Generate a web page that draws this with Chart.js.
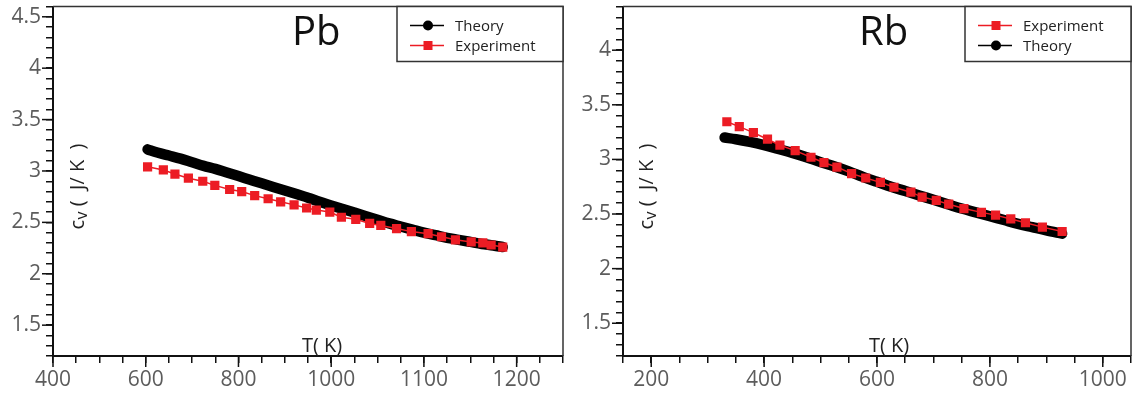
<!DOCTYPE html>
<html><head><meta charset="utf-8">
<script src="https://cdn.jsdelivr.net/npm/chart.js@4.4.1/dist/chart.umd.min.js"></script>
<style>
html,body{margin:0;padding:0;background:#fff;}
#wrap{position:relative;width:1142px;height:398px;overflow:hidden;}
canvas{position:absolute;top:0;}
</style></head><body>
<div id="wrap">
<canvas id="pb" width="575" height="398" style="left:0px"></canvas>
<canvas id="rb" width="567" height="398" style="left:575px"></canvas>
</div>
<script>
// ---------- Pb panel data (x in the figure's plotted axis units) ----------
const pbExpT  = [604,638,663,692,723,749,781,807,835,864,891,920,947,968,997,1022,1053,1083,1107,1141,1173,1209,1238,1268,1302,1327,1345,1370];
const pbExpCv = [3.04,3.01,2.97,2.93,2.90,2.86,2.82,2.80,2.76,2.73,2.70,2.67,2.64,2.62,2.60,2.55,2.53,2.49,2.47,2.44,2.41,2.39,2.36,2.33,2.31,2.30,2.28,2.26];
const pbTheoryT  = [604,625,650,675,700,725,750,775,800,825,850,875,900,925,950,975,1000,1025,1050,1075,1100,1125,1150,1175,1200,1225,1250,1275,1300,1325,1350,1370];
const pbTheoryCv = [3.21,3.18,3.15,3.12,3.085,3.05,3.02,2.985,2.95,2.915,2.88,2.845,2.81,2.775,2.74,2.70,2.665,2.63,2.595,2.56,2.525,2.49,2.46,2.43,2.40,2.375,2.35,2.33,2.31,2.29,2.275,2.26];
const pbXTickValues = [400,600,800,1000,1200,1400];
const pbXTickLabels = ['400','600','800','1000','1100','1200'];
const pbYTickValues = [1.5,2,2.5,3,3.5,4,4.5];
const pbYTickLabels = ['1.5','2','2.5','3','3.5','4','4.5'];

// ---------- Rb panel data ----------
const rbExpT  = [334,356,381,406,428,455,483,506,529,555,580,606,630,660,680,705,727,754,785,810,837,863,893,928];
const rbExpCv = [3.345,3.30,3.245,3.185,3.13,3.08,3.02,2.97,2.93,2.87,2.83,2.79,2.745,2.70,2.655,2.625,2.59,2.55,2.515,2.49,2.455,2.42,2.38,2.34];
const rbTheoryT  = [330,350,375,400,425,450,475,500,525,550,575,600,625,650,675,700,725,750,775,800,825,850,875,900,928];
const rbTheoryCv = [3.20,3.185,3.16,3.13,3.095,3.06,3.02,2.975,2.935,2.89,2.84,2.795,2.75,2.71,2.67,2.63,2.59,2.55,2.515,2.48,2.445,2.41,2.38,2.35,2.32];
const rbXTickValues = [200,400,600,800,1000];
const rbXTickLabels = ['200','400','600','800','1000'];
const rbYTickValues = [1.5,2,2.5,3,3.5,4];
const rbYTickLabels = ['1.5','2','2.5','3','3.5','4'];

const RED = '#ec1c24';
const BLACK = '#000000';
const TICKCOL = '#5c5c5c';
const FONT = "'Open Sans', 'DejaVu Sans', sans-serif";

function pts(xs, ys){ return xs.map((x,i)=>({x:x, y:ys[i]})); }

function expDataset(xs, ys){
  return {label:'Experiment', data:pts(xs,ys), order:0,
    borderColor:RED, backgroundColor:RED, borderWidth:1.5,
    pointStyle:'rect', pointRadius:6.5, pointBorderWidth:0, pointBackgroundColor:RED,
    pointHoverRadius:6.5, tension:0, fill:false};
}
function theoryDataset(xs, ys){
  return {label:'Theory', data:pts(xs,ys), order:1,
    borderColor:BLACK, backgroundColor:BLACK, borderWidth:10.5, borderCapStyle:'round', borderJoinStyle:'round',
    pointStyle:'circle', pointRadius:0, pointBackgroundColor:BLACK,
    pointHoverRadius:0, tension:0.3, cubicInterpolationMode:'monotone', fill:false};
}

const framePlugin = {
  id:'frameAndText',
  afterDraw(chart, args, o){
    const ctx = chart.ctx, a = chart.chartArea;
    ctx.save();
    // top and right frame
    ctx.strokeStyle = '#333'; ctx.lineWidth = 1.5;
    ctx.beginPath(); ctx.moveTo(a.left, a.top); ctx.lineTo(a.right, a.top); ctx.lineTo(a.right, a.bottom); ctx.stroke();

    // longer marks for labelled ticks
    ctx.strokeStyle = '#111'; ctx.lineWidth = 1.5;
    const xs = chart.scales.x, ys = chart.scales.y;
    o.xv.forEach(v => { const p = xs.getPixelForValue(v); ctx.beginPath(); ctx.moveTo(p, a.bottom); ctx.lineTo(p, a.bottom + 11); ctx.stroke(); });
    o.yv.forEach(v => { const p = ys.getPixelForValue(v); ctx.beginPath(); ctx.moveTo(a.left, p); ctx.lineTo(a.left - 11, p); ctx.stroke(); });

    // legend box
    const bw = 166, bh = 55;
    const bx = a.right - bw, by = a.top;
    ctx.fillStyle = '#fff'; ctx.fillRect(bx, by, bw, bh);
    ctx.strokeStyle = '#333'; ctx.lineWidth = 1.5;
    ctx.strokeRect(bx, by, bw, bh);
    o.legendOrder.forEach((idx, r) => {
      const ds = chart.data.datasets[idx];
      const cy = by + 19 + r*20;
      const x0 = bx + 13, x1 = bx + 47, mx = bx + 31;
      ctx.strokeStyle = ds.borderColor; ctx.lineWidth = 1.5;
      ctx.beginPath(); ctx.moveTo(x0, cy); ctx.lineTo(x1, cy); ctx.stroke();
      ctx.fillStyle = ds.pointBackgroundColor;
      if (ds.pointStyle === 'rect') { ctx.fillRect(mx-4.5, cy-4.5, 9, 9); }
      else { ctx.beginPath(); ctx.arc(mx, cy, 5, 0, Math.PI*2); ctx.fill(); }
      ctx.fillStyle = '#222'; ctx.font = "15px " + FONT;
      ctx.textAlign = 'left'; ctx.textBaseline = 'middle';
      ctx.fillText(ds.label, bx + 58, cy + 1);
    });

    // panel title
    ctx.fillStyle = '#111'; ctx.font = "40px " + FONT;
    ctx.textAlign = 'left'; ctx.textBaseline = 'alphabetic';
    ctx.fillText(o.title, a.left + o.titleDx, a.top + 38);

    // x axis title
    ctx.fillStyle = '#222'; ctx.font = "20px " + FONT;
    ctx.fillText('T( K)', a.left + o.xTitleDx, a.bottom - 4);

    // y axis title (rotated)
    ctx.translate(a.left + o.yTitleDx, a.top + 223);
    ctx.rotate(-Math.PI/2);
    ctx.textBaseline = 'alphabetic';
    ctx.font = "20px " + FONT;
    ctx.fillText('c', 0, 0);
    let w = ctx.measureText('c').width;
    ctx.font = "16px " + FONT;
    ctx.fillText('v', w + 0.5, 3);
    w += ctx.measureText('v').width + 0.5;
    ctx.font = "20px " + FONT;
    ctx.fillText(' (  J/ K  )', w, 0);
    ctx.restore();
  }
};

function makeChart(id, datasets, opt){
  const labelFor = (vals, labels) => (v) => {
    for (let i=0;i<vals.length;i++){ if (Math.abs(v - vals[i]) < 1e-6) return labels[i]; }
    return '';
  };
  opt.text.xv = opt.xv; opt.text.yv = opt.yv;
  return new Chart(document.getElementById(id), {
    type:'scatter',
    data:{datasets:datasets},
    options:{
      responsive:false, animation:false, devicePixelRatio:1,
      layout:{padding:{left:0, right:opt.padRight, top:4, bottom:0}},
      plugins:{legend:{display:false}, tooltip:{enabled:false}, frameAndText:opt.text},
      showLine:true,
      scales:{
        x:{type:'linear', position:'bottom', min:opt.xmin, max:opt.xmax,
          afterFit(s){ s.height = 42; s.paddingLeft = 0; s.paddingRight = 0; },
          border:{display:true, color:'#111', width:2},
          grid:{drawOnChartArea:false, drawTicks:true, tickLength:7, color:'#111', lineWidth:1.5},
          ticks:{stepSize:50, autoSkip:false, maxRotation:0, minRotation:0, padding:4, color:TICKCOL,
            font:{family:FONT, size:21}, callback:(v)=>labelFor(opt.xv, opt.xl)(v)}},
        y:{type:'linear', position:'left', min:opt.ymin, max:opt.ymax,
          afterFit(s){ s.width = opt.yWidth; s.paddingTop = 0; s.paddingBottom = 0; },
          border:{display:true, color:'#111', width:2},
          grid:{drawOnChartArea:false, drawTicks:true, tickLength:7, color:'#111', lineWidth:1.5},
          ticks:{stepSize:0.1, autoSkip:false, padding:5, color:TICKCOL,
            font:{family:FONT, size:21}, callback:(v)=>labelFor(opt.yv, opt.yl)(Math.round(v*10)/10)}}
      }
    },
    plugins:[framePlugin]
  });
}

makeChart('pb',
  [theoryDataset(pbTheoryT, pbTheoryCv), expDataset(pbExpT, pbExpCv)],
  {xmin:400, xmax:1500, ymin:1.2, ymax:4.6, yWidth:53, padRight:12,
   xv:pbXTickValues, xl:pbXTickLabels, yv:pbYTickValues, yl:pbYTickLabels,
   text:{title:'Pb', titleDx:239, xTitleDx:249, yTitleDx:31, legendOrder:[0,1]}});

makeChart('rb',
  [expDataset(rbExpT, rbExpCv), theoryDataset(rbTheoryT, rbTheoryCv)],
  {xmin:150, xmax:1050, ymin:1.2, ymax:4.4, yWidth:48, padRight:11,
   xv:rbXTickValues, xl:rbXTickLabels, yv:rbYTickValues, yl:rbYTickLabels,
   text:{title:'Rb', titleDx:236, xTitleDx:246, yTitleDx:30, legendOrder:[0,1]}});
</script>
</body></html>
